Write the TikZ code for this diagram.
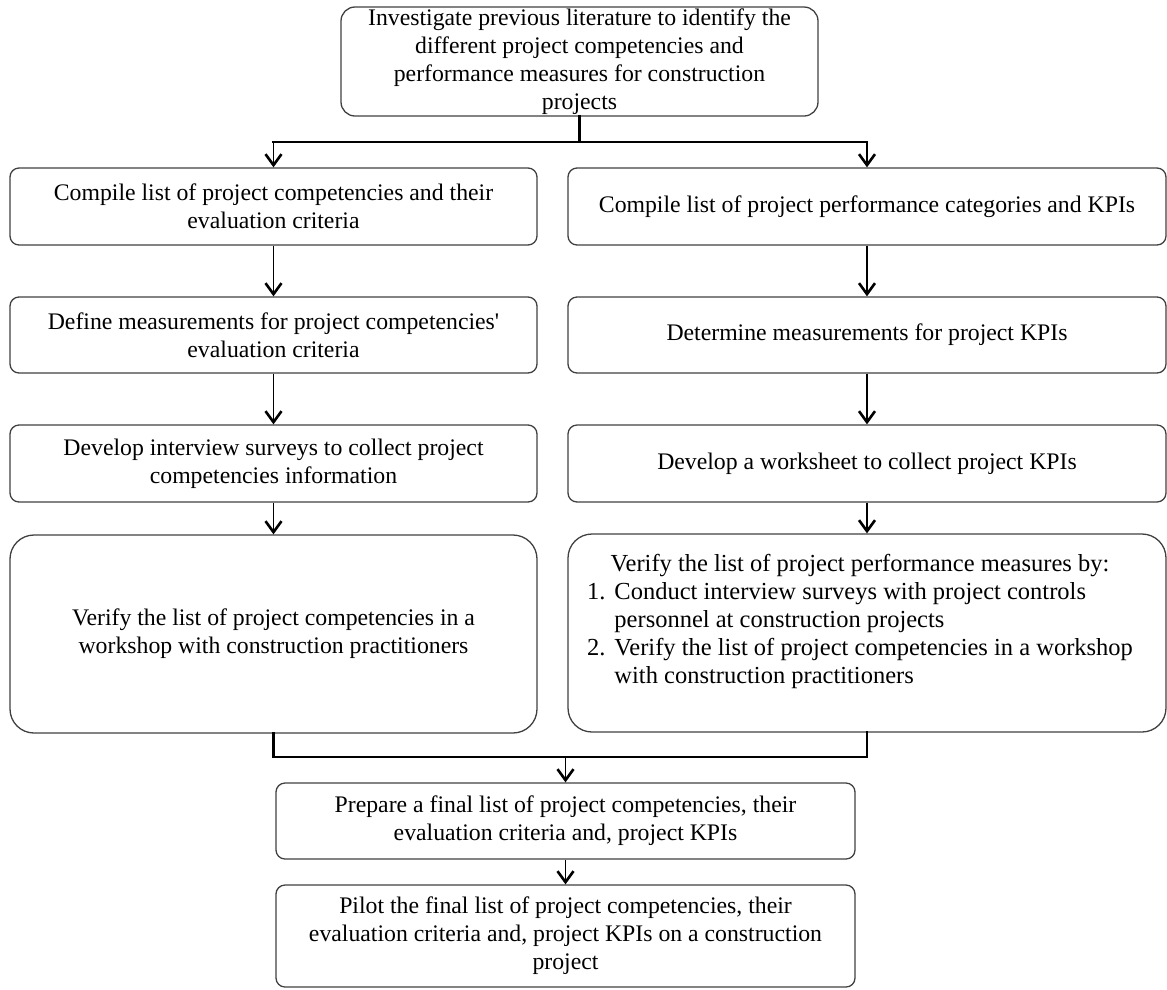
\documentclass[tikz,border=0pt]{standalone}
\usepackage{fontspec}
\setmainfont{Liberation Serif}
\usetikzlibrary{arrows.meta}
\definecolor{boxgray}{HTML}{404040}
\newcommand{\flowfont}{\fontsize{23.75pt}{28pt}\selectfont}
\newcommand{\listfont}{\fontsize{24.5pt}{28pt}\selectfont}

\begin{document}
\begin{tikzpicture}[
  x=1pt, y=-1pt,
  box/.style={draw=boxgray, line width=1.3pt, rounded corners=9pt,
    inner sep=0pt, align=center, font=\flowfont, text=black},
  colL/.style={minimum width=527pt},
  colR/.style={minimum width=598pt},
  colB/.style={minimum width=579pt},
  flow/.style={line width=1.9pt, draw=black,
    -{Straight Barb[length=11pt,width=16pt,line width=2.6pt]}},
  trunk/.style={line width=2.6pt, draw=black, line cap=rect},
]
\useasboundingbox (0,0) rectangle (1167,989);

% start of the study
\node[box, rounded corners=14pt, minimum width=477pt, minimum height=109pt] (top) at (579.5,61.5)
  {Investigate previous literature to identify the\\different project competencies and\\performance measures for construction\\projects};

% competencies branch
\node[box, colL, minimum height=77pt] (L1) at (273.5,206.5)
  {Compile list of project competencies and their\\evaluation criteria};
\node[box, colL, minimum height=76pt] (L2) at (273.5,335)
  {Define measurements for project competencies\textquotesingle\\evaluation criteria};
\node[box, colL, minimum height=77pt] (L3) at (273.5,463.5)
  {Develop interview surveys to collect project\\competencies information};
\node[box, colL, rounded corners=24pt, minimum height=198pt] (L4) at (273.5,634)
  {Verify the list of project competencies in a\\workshop with construction practitioners};

% performance branch
\node[box, colR, minimum height=77pt] (R1) at (867,206.5)
  {Compile list of project performance categories and KPIs};
\node[box, colR, minimum height=76pt] (R2) at (867,335)
  {Determine measurements for project KPIs};
\node[box, colR, minimum height=77pt] (R3) at (867,463.5)
  {Develop a worksheet to collect project KPIs};
\node[box, colR, rounded corners=24pt, minimum height=198pt, font=\listfont] (R4) at (867,633)
  {\raisebox{11pt}[\height][\depth]{%
   \begin{tabular}{@{}l@{\hspace{9pt}}l@{\hspace{14pt}}}
   \multicolumn{2}{@{}c@{\hspace{14pt}}}{Verify the list of project performance measures by:}\\
   1. & Conduct interview surveys with project controls\\
      & personnel at construction projects\\
   2. & Verify the list of project competencies in a workshop\\
      & with construction practitioners
   \end{tabular}}};

% final steps
\node[box, colB, minimum height=76pt] (B1) at (565.5,821)
  {Prepare a final list of project competencies, their\\evaluation criteria and, project KPIs};
\node[box, colB, minimum height=102pt] (B2) at (565.5,936)
  {Pilot the final list of project competencies, their\\evaluation criteria and, project KPIs on a construction\\project};

% split into the two branches
\coordinate (split) at (0,142);
\draw[trunk] (top.south) -- (top.south |- split);
\draw[trunk] (L1.north |- split) -- (R1.north |- split);
\draw[flow] (L1.north |- split) -- (L1.north);
\draw[flow] (R1.north |- split) -- (R1.north);

% steps within each branch
\draw[flow] (L1) -- (L2);
\draw[flow] (L2) -- (L3);
\draw[flow] (L3) -- (L4);
\draw[flow] (R1) -- (R2);
\draw[flow] (R2) -- (R3);
\draw[flow] (R3) -- (R4);

% branches merge
\coordinate (merge) at (0,757);
\draw[trunk] (L4.south) -- (L4.south |- merge) -- (R4.south |- merge) -- (R4.south);
\draw[flow] (B1.north |- merge) -- (B1.north);
\draw[flow] (B1) -- (B2);
\end{tikzpicture}
\end{document}
